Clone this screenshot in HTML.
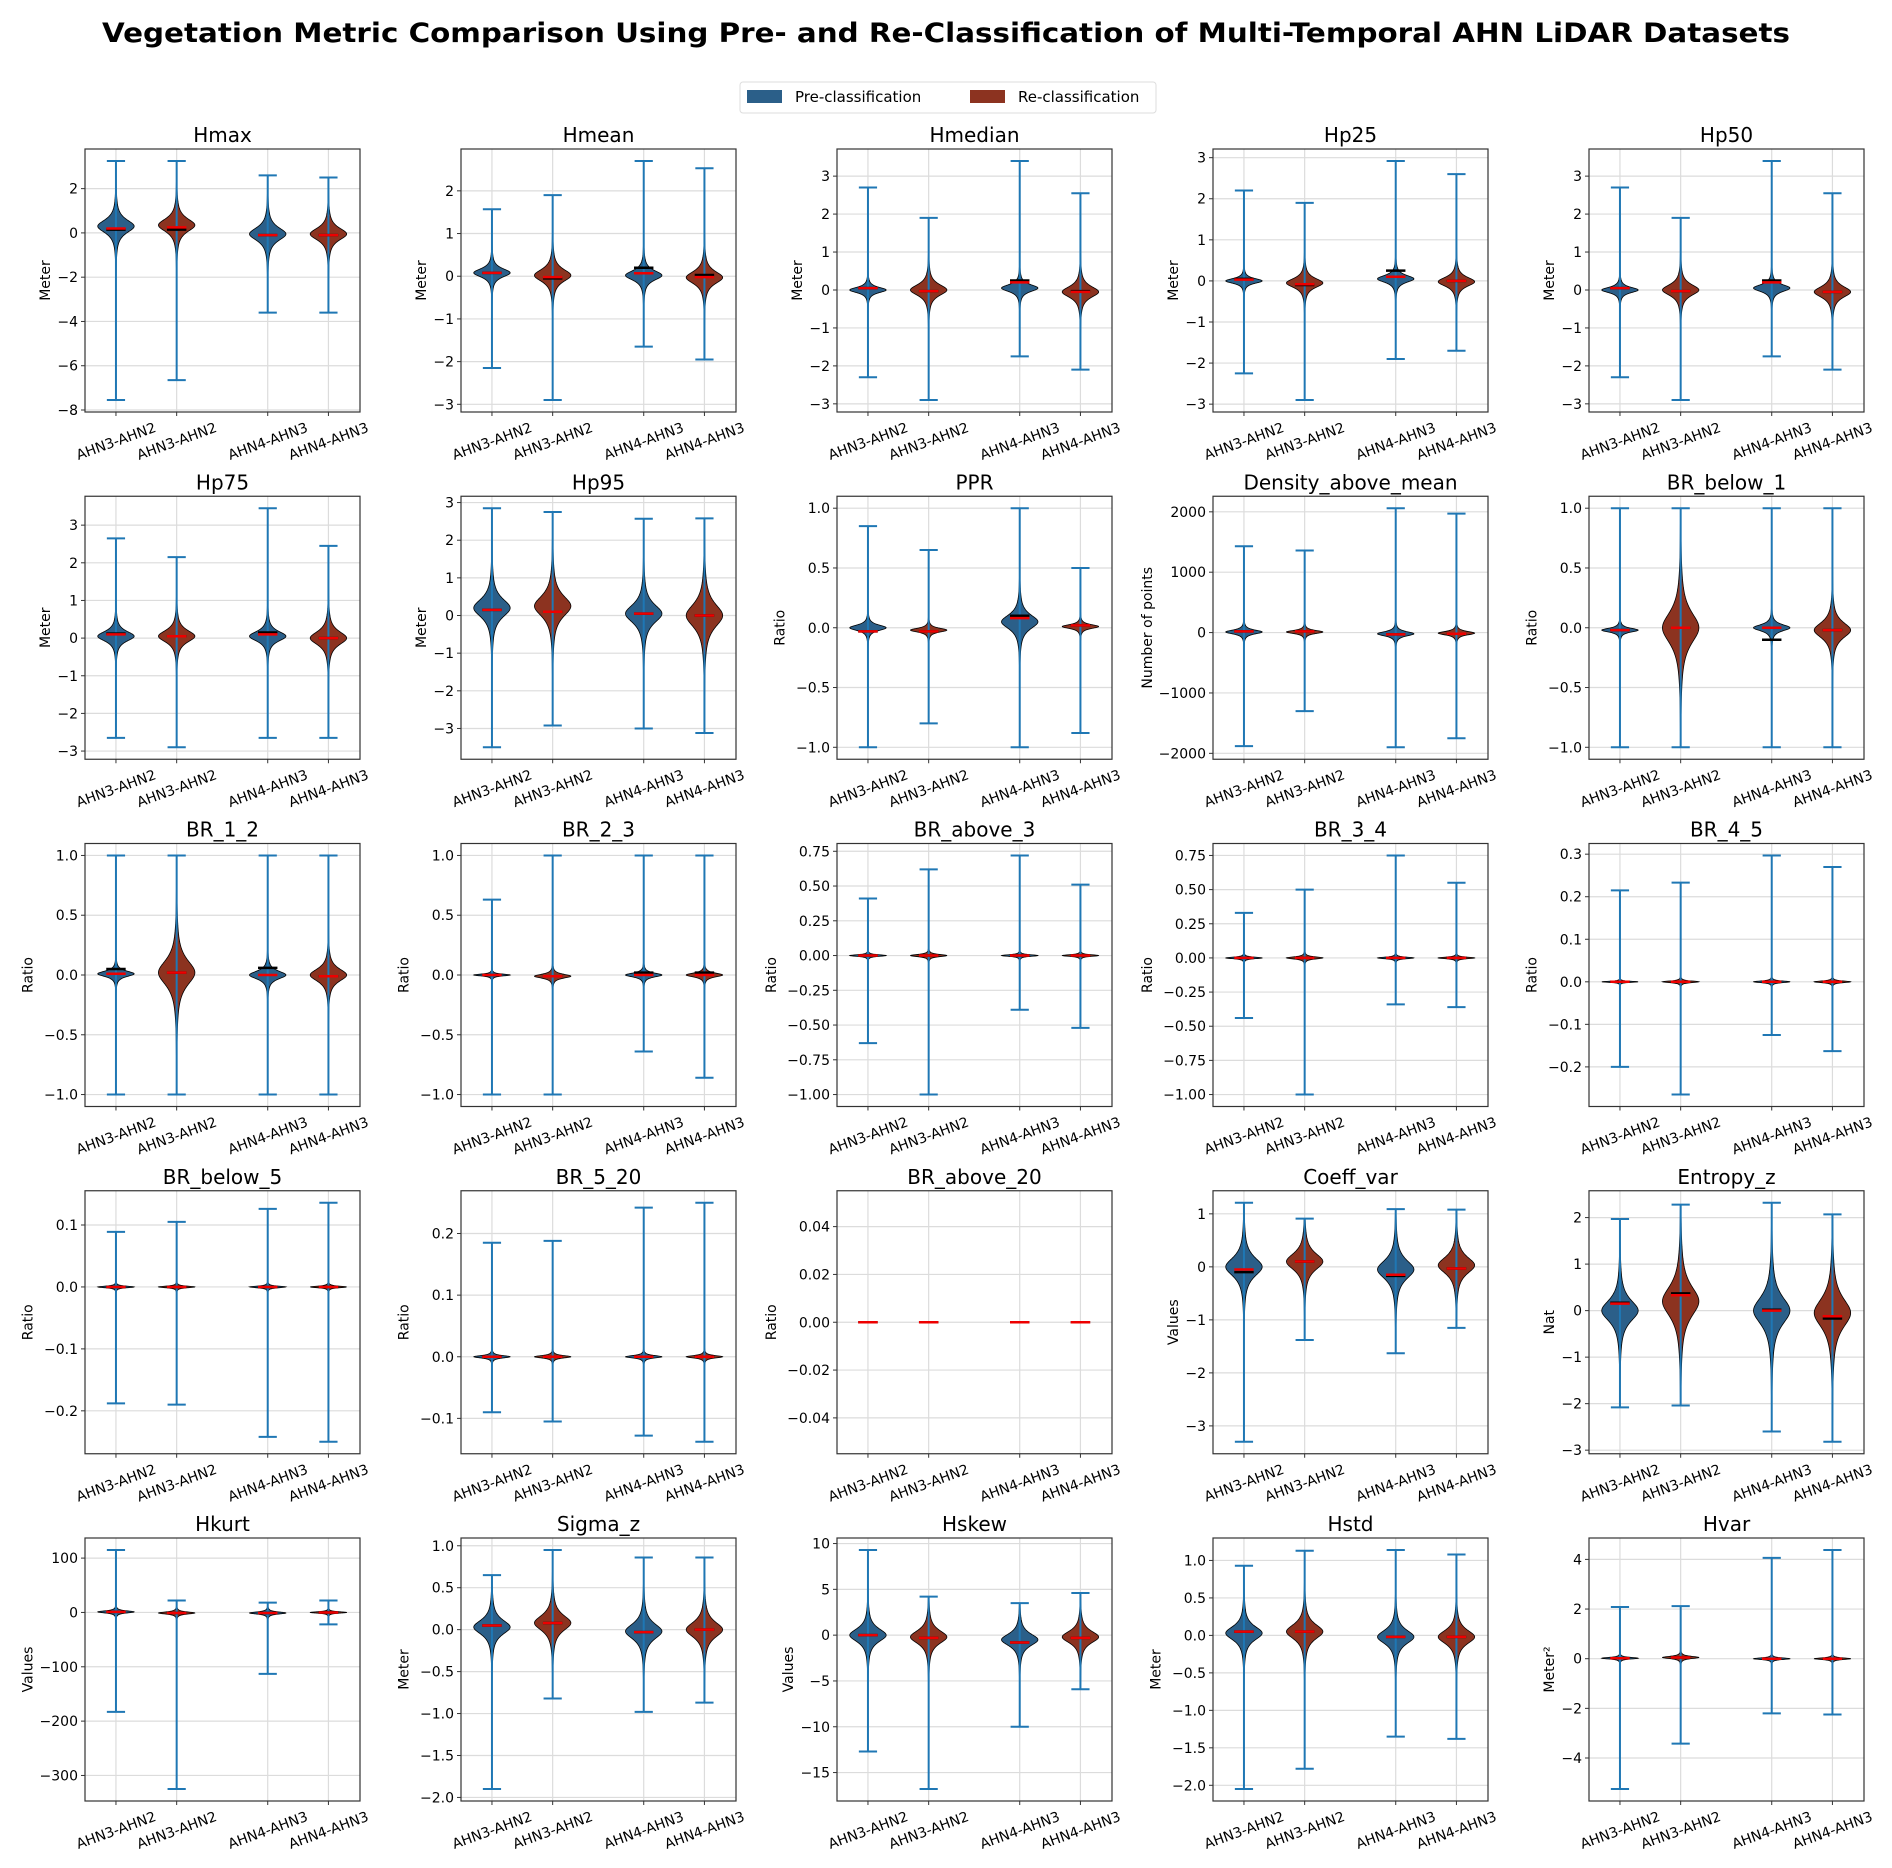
<!DOCTYPE html>
<html><head><meta charset="utf-8"><style>
body{margin:0;background:#fff;}
svg{display:block;font-family:"DejaVu Sans","Liberation Sans",sans-serif;}
</style></head><body>
<svg id="fig" width="1892" height="1868" viewBox="0 0 1892 1868" xmlns="http://www.w3.org/2000/svg">
<rect width="1892" height="1868" fill="#fff"/>
<text x="946" y="42" text-anchor="middle" font-size="27" font-weight="bold" textLength="1688" lengthAdjust="spacingAndGlyphs">Vegetation Metric Comparison Using Pre- and Re-Classification of Multi-Temporal AHN LiDAR Datasets</text>
<g>
<rect x="740" y="82" width="416" height="31" rx="3" fill="#fff" stroke="#ddd"/>
<g><rect x="747" y="90" width="35" height="13" fill="#2b5f89"/><text x="795" y="102" font-size="15">Pre-classification</text></g>
<g><rect x="970" y="90" width="35" height="13" fill="#8c3320"/><text x="1018" y="102" font-size="15">Re-classification</text></g>
</g>
<g id="plots"></g>
</svg>
<script>
const titles=["Hmax","Hmean","Hmedian","Hp25","Hp50","Hp75","Hp95","PPR","Density_above_mean","BR_below_1","BR_1_2","BR_2_3","BR_above_3","BR_3_4","BR_4_5","BR_below_5","BR_5_20","BR_above_20","Coeff_var","Entropy_z","Hkurt","Sigma_z","Hskew","Hstd","Hvar"];
const yLabels=["Meter","Meter","Meter","Meter","Meter","Meter","Meter","Ratio","Number of points","Ratio","Ratio","Ratio","Ratio","Ratio","Ratio","Ratio","Ratio","Ratio","Values","Nat","Values","Meter","Values","Meter","Meter²"];
const categories=["AHN3-AHN2","AHN3-AHN2","AHN4-AHN3","AHN4-AHN3"];
const groups=["pre","re","pre","re"];
const positions=[1,2,3.5,4.5];
const mins=[[-7.55,-6.65,-3.6,-3.6],[-2.15,-2.9,-1.65,-1.95],[-2.3,-2.9,-1.75,-2.1],[-2.25,-2.9,-1.9,-1.7],[-2.3,-2.9,-1.75,-2.1],
[-2.65,-2.9,-2.65,-2.65],[-3.5,-2.92,-3.0,-3.12],[-1,-0.8,-1,-0.88],[-1880,-1300,-1900,-1750],[-1,-1,-1,-1],
[-1,-1,-1,-1],[-1,-1,-0.64,-0.86],[-0.63,-1,-0.39,-0.52],[-0.44,-1,-0.34,-0.36],[-0.2,-0.265,-0.125,-0.163],
[-0.188,-0.19,-0.242,-0.25],[-0.09,-0.105,-0.128,-0.138],[0,0,0,0],[-3.3,-1.38,-1.63,-1.15],[-2.08,-2.04,-2.6,-2.82],
[-183,-325,-113,-22],[-1.9,-0.82,-0.98,-0.87],[-12.7,-16.8,-10,-5.9],[-2.05,-1.78,-1.35,-1.38],[-5.25,-3.42,-2.2,-2.25]];
const maxs=[[3.25,3.25,2.6,2.5],[1.57,1.9,2.7,2.53],[2.7,1.9,3.4,2.55],[2.2,1.9,2.92,2.6],[2.7,1.9,3.4,2.55],
[2.65,2.15,3.45,2.45],[2.85,2.75,2.57,2.58],[0.85,0.65,1,0.5],[1430,1360,2060,1970],[1,1,1,1],
[1,1,1,1],[0.63,1,1,1],[0.41,0.62,0.72,0.51],[0.33,0.5,0.75,0.55],[0.215,0.233,0.297,0.27],
[0.089,0.105,0.126,0.136],[0.185,0.188,0.242,0.25],[0,0,0,0],[1.21,0.91,1.09,1.08],[1.97,2.28,2.32,2.07],
[115,22,18,22],[0.65,0.95,0.86,0.86],[9.3,4.2,3.5,4.6],[0.93,1.13,1.14,1.08],[2.08,2.12,4.06,4.38]];
const means=[[0.2,0.25,-0.1,-0.1],[0.08,-0.02,0.07,-0.02],[0.05,-0.03,0.2,-0.05],[0.03,-0.08,0.1,0.0],[0.05,-0.03,0.2,-0.05],
[0.1,0.05,0.1,0.0],[0.15,0.1,0.05,0.0],[-0.03,-0.03,0.08,0.02],[20,20,-30,-20],[-0.02,0,0,-0.02],
[0.01,0.02,0.0,-0.01],[0,-0.01,0,0],[0,0,0,0],[0,0,0,0],[0,0,0,0],
[0,0,0,0],[0,0,0,0],[0,0,0,0],[-0.05,0.1,-0.15,-0.03],[0.15,0.33,0.0,-0.12],
[1,-1,-1,0],[0.05,0.08,-0.03,0.0],[0,-0.3,-0.8,-0.3],[0.05,0.05,-0.02,-0.02],[0.02,0.05,0,0]];
const medians=[[0.15,0.15,-0.1,-0.1],[0.08,-0.05,0.2,0.03],[0.05,-0.03,0.25,-0.03],[0.05,-0.1,0.25,0.0],[0.05,-0.03,0.25,-0.05],
[0.12,0.05,0.15,0.0],[0.15,0.1,0.05,0.0],[-0.03,-0.03,0.1,0.02],[20,20,-30,-20],[-0.02,0,-0.1,-0.02],
[0.05,0.02,0.06,-0.01],[0,-0.01,0.02,0.02],[0,0,0,0],[0,0,0,0],[0,0,0,0],
[0,0,0,0],[0,0,0,0],[0,0,0,0],[-0.1,0.1,-0.17,-0.03],[0.17,0.37,0.02,-0.17],
[1,-1,-1,0],[0.05,0.08,-0.03,0.0],[0,-0.3,-0.8,-0.3],[0.05,0.05,-0.02,-0.02],[0.02,0.05,0,0]];
const centers=[[0.3,0.35,-0.05,-0.05],[0.08,0.02,0.02,-0.03],[0.0,0.0,0.05,-0.05],[0.0,-0.05,0.05,-0.02],[0.0,0.0,0.05,-0.05],
[0.05,0.05,0.05,0.0],[0.2,0.25,0.05,0.0],[0.0,-0.02,0.05,0.01],[10,10,-20,-10],[-0.02,0,0,-0.02],
[0.01,0.02,0.0,0.0],[0,-0.01,0,0],[0,0,0,0],[0,0,0,0],[0,0,0,0],
[0,0,0,0],[0,0,0,0],[0,0,0,0],[0.0,0.1,-0.05,0.03],[0.0,0.2,0.0,-0.05],
[1,-1,-1,0],[0.03,0.08,-0.02,0.0],[0,-0.2,-0.5,-0.2],[0.03,0.05,-0.02,-0.02],[0.02,0.05,0,0]];
const spreads=[[0.45,0.45,0.45,0.42],[0.15,0.22,0.17,0.22],[0.11,0.22,0.14,0.22],[0.09,0.17,0.13,0.17],[0.11,0.22,0.14,0.22],
[0.2,0.24,0.2,0.27],[0.37,0.42,0.37,0.47],[0.035,0.025,0.09,0.025],[50,40,55,45],[0.025,0.2,0.04,0.1],
[0.035,0.16,0.05,0.08],[0.012,0.025,0.025,0.025],[0.009,0.012,0.009,0.009],[0.009,0.012,0.009,0.009],[0.002,0.003,0.003,0.003],
[0.002,0.002,0.002,0.002],[0.003,0.003,0.003,0.003],[0,0,0,0],[0.27,0.24,0.27,0.24],[0.35,0.5,0.45,0.48],
[3,3,3,2],[0.13,0.14,0.14,0.14],[1.1,1.1,1.0,1.0],[0.14,0.15,0.14,0.14],[0.05,0.07,0.05,0.05]];
const ticks=[[-8,-6,-4,-2,0,2],[-3,-2,-1,0,1,2],[-3,-2,-1,0,1,2,3],[-3,-2,-1,0,1,2,3],[-3,-2,-1,0,1,2,3],
[-3,-2,-1,0,1,2,3],[-3,-2,-1,0,1,2,3],[-1,-0.5,0,0.5,1],[-2000,-1000,0,1000,2000],[-1,-0.5,0,0.5,1],
[-1,-0.5,0,0.5,1],[-1,-0.5,0,0.5,1],[-1,-0.75,-0.5,-0.25,0,0.25,0.5,0.75],[-1,-0.75,-0.5,-0.25,0,0.25,0.5,0.75],[-0.2,-0.1,0,0.1,0.2,0.3],
[-0.2,-0.1,0,0.1],[-0.1,0,0.1,0.2],[-0.04,-0.02,0,0.02,0.04],[-3,-2,-1,0,1],[-3,-2,-1,0,1,2],
[-300,-200,-100,0,100],[-2,-1.5,-1,-0.5,0,0.5,1],[-15,-10,-5,0,5,10],[-2,-1.5,-1,-0.5,0,0.5,1],[-4,-2,0,2,4]];
const tickDecimals=[0,0,0,0,0,0,0,1,0,1,1,1,2,2,1,1,1,2,0,0,0,1,0,1,0];
const NS="http://www.w3.org/2000/svg";
const fills={pre:"#2b5f89",re:"#8c3320"};
const X0=85,COLW=376,W=275,Y0=149,ROWH=347.25,H=263;
const XLIM=[0.49,5.02];
function el(tag,attrs,parent){const e=document.createElementNS(NS,tag);for(const k in attrs)e.setAttribute(k,attrs[k]);parent.appendChild(e);return e;}
function fmt(v,d){const s=Math.abs(v).toFixed(d);return (v<0?"\u2212":"")+s;}
const root=document.getElementById('plots');
titles.forEach((t,i)=>{
  const col=i%5,row=Math.floor(i/5);
  const L=X0+col*COLW,T=Y0+row*ROWH;
  let lo=Math.min(...mins[i]),hi=Math.max(...maxs[i]);
  let ymin,ymax;
  if(hi-lo===0){ymin=-0.055;ymax=0.055;}else{const m=0.05*(hi-lo);ymin=lo-m;ymax=hi+m;}
  const sx=v=>L+(v-XLIM[0])/(XLIM[1]-XLIM[0])*W;
  const sy=v=>T+H-(v-ymin)/(ymax-ymin)*H;
  const g=el('g',{},root);
  
  
  const grid=el('g',{stroke:'#dcdcdc','stroke-width':1.2},g);
  
  
  positions.forEach(p=>el('line',{x1:sx(p),x2:sx(p),y1:T,y2:T+H},grid));
  ticks[i].forEach(v=>el('line',{x1:L,x2:L+W,y1:sy(v),y2:sy(v)},grid));
  positions.forEach((p,j)=>{
    const mn=mins[i][j],mx=maxs[i][j],s=spreads[i][j],c=centers[i][j];
    const vg=el('g',{},g);
    
    
    if(s>0&&mx>mn){
      const N=900,HW=0.3;const right=[],left=[];
      for(let k=0;k<=N;k++){const y=mn+(mx-mn)*k/N;const d=(y-c)/s;const w=HW/Math.pow(1+d*d,1.4);
        right.push(sx(p+w).toFixed(2)+','+sy(y).toFixed(2));left.push(sx(p-w).toFixed(2)+','+sy(y).toFixed(2));}
      const body=el('polygon',{points:right.concat(left.reverse()).join(' '),fill:fills[groups[j]],stroke:'#000','stroke-width':0.8},vg);
      
      
    }
    const cap=0.15;
    el('line',{x1:sx(p),x2:sx(p),y1:sy(mn),y2:sy(mx),stroke:'#1f77b4','stroke-width':2},vg);
    el('line',{x1:sx(p-cap),x2:sx(p+cap),y1:sy(mn),y2:sy(mn),stroke:'#1f77b4','stroke-width':2},vg);
    el('line',{x1:sx(p-cap),x2:sx(p+cap),y1:sy(mx),y2:sy(mx),stroke:'#1f77b4','stroke-width':2},vg);
    el('line',{x1:sx(p-0.16),x2:sx(p+0.16),y1:sy(medians[i][j]),y2:sy(medians[i][j]),stroke:'#000','stroke-width':2.5},vg);
    el('line',{x1:sx(p-0.16),x2:sx(p+0.16),y1:sy(means[i][j]),y2:sy(means[i][j]),stroke:'#e00','stroke-width':2.5},vg);
  });
  el('rect',{x:L,y:T,width:W,height:H,fill:'none',stroke:'#333','stroke-width':1.2},g);
  let maxw=0;
  ticks[i].forEach(v=>{
    const y=sy(v);
    el('line',{x1:L-4,x2:L,y1:y,y2:y,stroke:'#333'},g);
    const s=fmt(v,tickDecimals[i]);maxw=Math.max(maxw,s.length*8.6);
    const tx=el('text',{x:L-7,y:y+5,'font-size':14,'text-anchor':'end'},g);tx.textContent=s;
    
    
  });
  positions.forEach((p,j)=>{
    const x=sx(p);
    el('line',{x1:x,x2:x,y1:T+H,y2:T+H+4,stroke:'#333'},g);
    const tx=el('text',{x:x,y:T+H+34,'font-size':14,'text-anchor':'middle',transform:`rotate(-20 ${x} ${T+H+29})`},g);
    tx.textContent=categories[j];
    
    
  });
  const yl=el('text',{x:0,y:0,'font-size':14,'text-anchor':'middle',transform:`translate(${L-12-maxw-6} ${T+H/2}) rotate(-90)`},g);
  yl.textContent=yLabels[i];
  
  
  const st=el('text',{x:L+W/2,y:T-7,'font-size':20,'text-anchor':'middle'},g);
  st.textContent=t;
  
  
});
</script>
</body></html>
